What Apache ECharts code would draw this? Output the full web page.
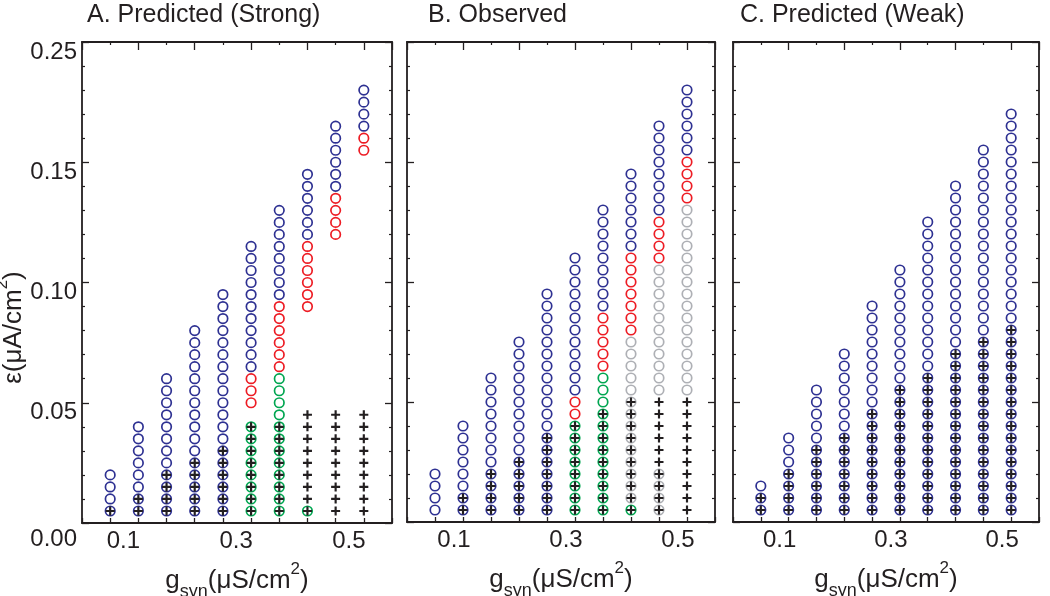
<!DOCTYPE html>
<html><head><meta charset="utf-8">
<script src="https://cdn.jsdelivr.net/npm/echarts@6/dist/echarts.min.js"></script>
<style>html,body{margin:0;padding:0;background:#fff}#c{width:1050px;height:596px}</style>
</head><body><div id="c"></div>
<script>
// ---- data ----
const gsynValues = [0.05, 0.10, 0.15, 0.20, 0.25, 0.30, 0.35, 0.40, 0.45, 0.50];
const epsValues = [0.005, 0.010, 0.015, 0.020, 0.025, 0.030, 0.035, 0.040, 0.045, 0.050,
  0.055, 0.060, 0.065, 0.070, 0.075, 0.080, 0.085, 0.090, 0.095, 0.100,
  0.105, 0.110, 0.115, 0.120, 0.125, 0.130, 0.135, 0.140, 0.145, 0.150,
  0.155, 0.160, 0.165, 0.170, 0.175, 0.180];
const panelTitles = ['A. Predicted (Strong)', 'B. Observed', 'C. Predicted (Weak)'];
const xTickValues = [0.1, 0.3, 0.5];
const xTickLabels = ['0.1', '0.3', '0.5'];
const yTickValues = [0, 0.05, 0.10, 0.15, 0.20];
const yTickLabels = ['0.00', '0.05', '0.10', '0.15', '0.25'];
// One string per g_syn column, one character per epsilon row (bottom first):
// b blue, r red, g green, a gray circle; upper case = circle with "+"; '+' = plus only; '.' = empty
const strongColumns = [
  'Bbbb',
  'BBbbbbbb',
  'BBBBbbbbbbbb',
  'BBBBBbbbbbbbbbbb',
  'BBBBBBbbbbbbbbbbbbb',
  'GGGGGGGG.rrrbbbbbbbbbbb',
  'GGGGGGGGggggrrrrrrbbbbbbbb',
  'G++++++++........rrrrrrbbbbbb',
  '+++++++++..............rrrrbbbbbb',
  '+++++++++.....................rrbbbb'
];
const observedColumns = [
  'bbbb',
  'BBbbbbbb',
  'BBBBbbbbbbbb',
  'BBBBBbbbbbbbbbb',
  'BBBBBBBbbbbbbbbbbbb',
  'GGGGGGGGrrbbbbbbbbbbbb',
  'GGGGGGGGGgggrrrrrbbbbbbbbb',
  'GAAAAAAAAAaaaaarrrrrrrbbbbbbb',
  'AAAA++++++aaaaaaaaaaarrrrbbbbbbbb',
  '++++++++++aaaaaaaaaaaaaaaarrrrbbbbbb'
];
const weakColumns = [
  'BBb',
  'BBBBbbb',
  'BBBBBBbbbbb',
  'BBBBBBBbbbbbbb',
  'BBBBBBBBBbbbbbbbbb',
  'BBBBBBBBBBBbbbbbbbbbb',
  'BBBBBBBBBBBBbbbbbbbbbbbbb',
  'BBBBBBBBBBBBBBbbbbbbbbbbbbbb',
  'BBBBBBBBBBBBBBBbbbbbbbbbbbbbbbb',
  'BBBBBBBBBBBBBBBBbbbbbbbbbbbbbbbbbb'
];
const panels = [strongColumns, observedColumns, weakColumns];

// ---- style ----
const INK = '#231f20';
const FONT = 'Liberation Sans, Arial, Helvetica, sans-serif';
const circleColors = { b: '#2e3192', r: '#ed1c24', g: '#00a651', a: '#aeb0b5' };
const PLUS = 'path://M0,3.8H10V6.2H0Z M3.8,0H6.2V10H3.8Z';
const grids = [
  { left: 82, top: 42, width: 310, height: 481 },
  { left: 407, top: 42, width: 308, height: 480 },
  { left: 733, top: 42, width: 306, height: 480 }
];
const titleLeft = [87, 428, 740];
const xLabelShift = [30, 18, 18];

const nameRich = {
  m: { fontSize: 26, lineHeight: 40, fontFamily: FONT, color: INK, verticalAlign: 'middle' },
  s: { fontSize: 18, lineHeight: 18, fontFamily: FONT, color: INK, verticalAlign: 'bottom' },
  p: { fontSize: 17, lineHeight: 18, fontFamily: FONT, color: INK, verticalAlign: 'top' }
};

function near(a, b) { return Math.abs(a - b) < 1e-6; }

const xAxes = [], yAxes = [], series = [];
panels.forEach((cols, gi) => {
  xAxes.push({
    type: 'value', gridIndex: gi, position: 'bottom', min: 0, max: 0.55, interval: 0.05,
    axisLine: { show: true, onZero: false, lineStyle: { color: INK, width: 1.8 } },
    axisTick: { show: true, inside: true, length: 5, lineStyle: { color: INK, width: 1.3 } },
    splitLine: { show: false },
    axisLabel: {
      show: true, fontSize: 24, fontFamily: FONT, color: INK, margin: 6,
      padding: [0, xLabelShift[gi], 0, 0], showMinLabel: true, showMaxLabel: true,
      formatter: v => { const i = xTickValues.findIndex(t => near(t, v)); return i >= 0 ? xTickLabels[i] : ''; }
    },
    name: '{m|g}{s|syn}{m|(μS/cm}{p|2}{m|)}', nameLocation: 'middle', nameGap: 38,
    nameTextStyle: { rich: nameRich }
  });
  xAxes.push({
    type: 'value', gridIndex: gi, position: 'top', min: 0, max: 0.55, interval: 0.1,
    axisLine: { show: true, onZero: false, lineStyle: { color: INK, width: 1.8 } },
    axisTick: { show: true, inside: true, length: 8, lineStyle: { color: INK, width: 1.3 } },
    minorTick: { show: true, splitNumber: 2, length: 3, lineStyle: { color: INK, width: 1.2 } },
    splitLine: { show: false }, minorSplitLine: { show: false },
    axisLabel: { show: false }
  });
  const yLeft = {
    type: 'value', gridIndex: gi, position: 'left', min: 0, max: 0.2, interval: 0.05,
    axisLine: { show: true, onZero: false, lineStyle: { color: INK, width: 1.8 } },
    axisTick: { show: true, inside: true, length: 7, lineStyle: { color: INK, width: 1.3 } },
    minorTick: { show: true, splitNumber: 5, length: 3, lineStyle: { color: INK, width: 1.2 } },
    splitLine: { show: false }, minorSplitLine: { show: false },
    axisLabel: { show: false }
  };
  if (gi === 0) {
    yLeft.axisLabel = {
      show: true, fontSize: 24, fontFamily: FONT, color: INK, margin: 5,
      padding: [20, 0, 0, 0], showMinLabel: true, showMaxLabel: true,
      formatter: v => {
        const i = yTickValues.findIndex(t => near(t, v));
        if (i < 0) return '';
        return i === 0 ? '{z|' + yTickLabels[i] + '}' : yTickLabels[i];
      },
      rich: { z: { fontSize: 24, fontFamily: FONT, color: INK, padding: [12, 0, 0, 0] } }
    };
    yLeft.name = '{m|ε(μA/cm}{p|2}{m|)}';
    yLeft.nameLocation = 'middle';
    yLeft.nameGap = 42;
    yLeft.nameRotate = 90;
    yLeft.nameTextStyle = { rich: nameRich, padding: [0, 90, 0, 0] };
  }
  yAxes.push(yLeft);
  yAxes.push({
    type: 'value', gridIndex: gi, position: 'right', min: 0, max: 0.2, interval: 0.05,
    axisLine: { show: true, onZero: false, lineStyle: { color: INK, width: 1.8 } },
    axisTick: { show: true, inside: true, length: 7, lineStyle: { color: INK, width: 1.3 } },
    minorTick: { show: true, splitNumber: 5, length: 3, lineStyle: { color: INK, width: 1.2 } },
    splitLine: { show: false }, minorSplitLine: { show: false },
    axisLabel: { show: false }
  });

  const circles = { b: [], r: [], g: [], a: [] };
  const plus = [];
  cols.forEach((col, ci) => {
    col.split('').forEach((ch, k) => {
      const pt = [gsynValues[ci], epsValues[k]];
      const low = ch.toLowerCase();
      if (circles[low]) circles[low].push(pt);
      if (ch === '+' || (circles[low] && ch !== low)) plus.push(pt);
    });
  });
  Object.keys(circles).forEach(c => {
    if (!circles[c].length) return;
    series.push({
      type: 'scatter', xAxisIndex: gi * 2, yAxisIndex: gi * 2, data: circles[c],
      symbol: 'circle', symbolSize: 9.5, silent: true, z: 2,
      itemStyle: { color: 'rgba(0,0,0,0)', borderColor: circleColors[c], borderWidth: 1.7, opacity: 1 }
    });
  });
  series.push({
    type: 'scatter', xAxisIndex: gi * 2, yAxisIndex: gi * 2, data: plus,
    symbol: PLUS, symbolSize: 9, silent: true, z: 3,
    itemStyle: { color: INK, opacity: 1 }
  });
});

const chart = echarts.init(document.getElementById('c'), null, { renderer: 'canvas' });
chart.setOption({
  animation: false,
  backgroundColor: '#ffffff',
  textStyle: { fontFamily: FONT },
  title: panelTitles.map((t, i) => ({
    text: t, left: titleLeft[i], top: 3, padding: 0,
    textStyle: { fontSize: 25, fontWeight: 'normal', fontFamily: FONT, color: INK }
  })),
  grid: grids.map(g => Object.assign({ containLabel: false, outerBoundsMode: 'none' }, g)),
  xAxis: xAxes,
  yAxis: yAxes,
  series: series
});
</script>
</body></html>
